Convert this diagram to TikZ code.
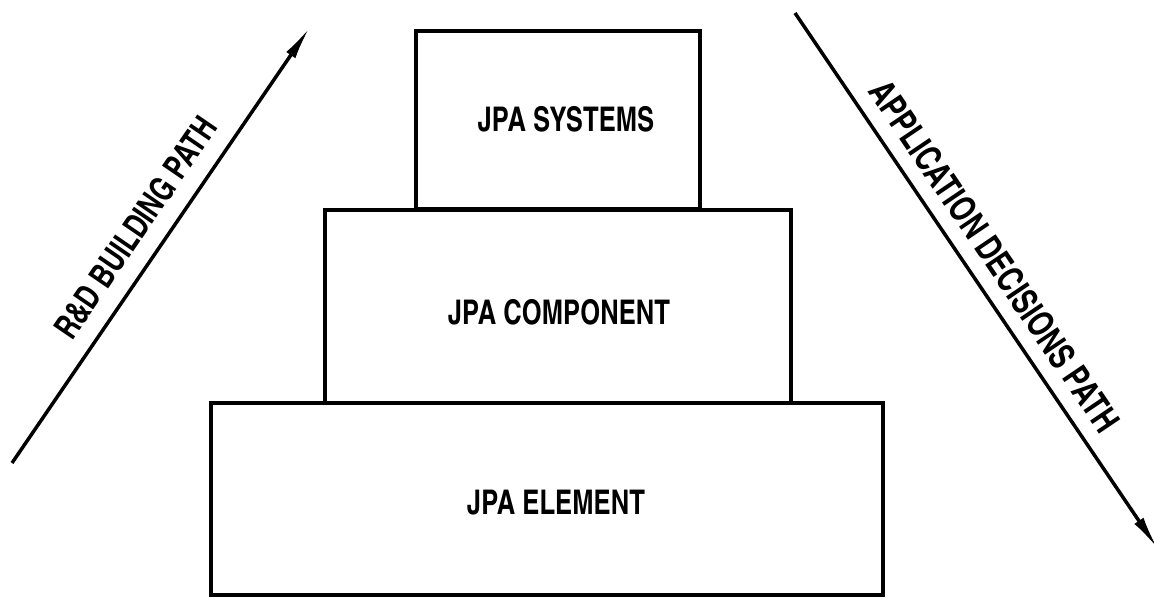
\documentclass[tikz,border=0pt]{standalone}
\usepackage{fontspec}
\newfontfamily\labfont{texgyreheroscn-bold}[Extension=.otf, FakeStretch=0.92]
\usetikzlibrary{arrows.meta,calc}
\begin{document}
\begin{tikzpicture}[x=1pt,y=-1pt,
  blk/.style={draw, line width=3.5pt, inner sep=0pt},
  lbl/.style={font=\labfont\fontsize{34}{34}\selectfont, inner sep=0pt},
  biglbl/.style={font=\labfont\fontsize{36}{36}\selectfont, inner sep=0pt},
  arr/.style={line width=3.5pt, -{Latex[length=34pt,width=11pt]}}]
\useasboundingbox (0,0) rectangle (1154,598);
% boxes
\node[blk, minimum width=284pt, minimum height=178pt] (sys) at (558,120) {};
\node[blk, minimum width=466pt, minimum height=193pt] (comp) at (558,306.5) {};
\node[blk, minimum width=672pt, minimum height=192pt] (elem) at (547,499) {};
% box texts
\node[lbl] (tsys) at (566,119.5) {JPA SYSTEMS};
\node[lbl] (tcomp) at (559,312) {JPA COMPONENT};
\node[lbl] (telem) at (556,503) {JPA ELEMENT};
% arrows
\coordinate (la) at (12,463);
\coordinate (lb) at (310,27);
\coordinate (ra) at (795,13);
\coordinate (rb) at (1158,549);
\draw[arr] (la) -- (lb);
\draw[arr] (ra) -- (rb);
% arrow labels
\node[lbl, rotate=55.65] (rdl) at ($(la)!0.5!(lb)!31pt!90:(lb)$) {R\&D BUILDING PATH};
\node[biglbl, rotate=-55.9] (adl) at ($(ra)!0.484!(rb)!29pt!90:(rb)$) {APPLICATION DECISIONS PATH};
\end{tikzpicture}
\end{document}
